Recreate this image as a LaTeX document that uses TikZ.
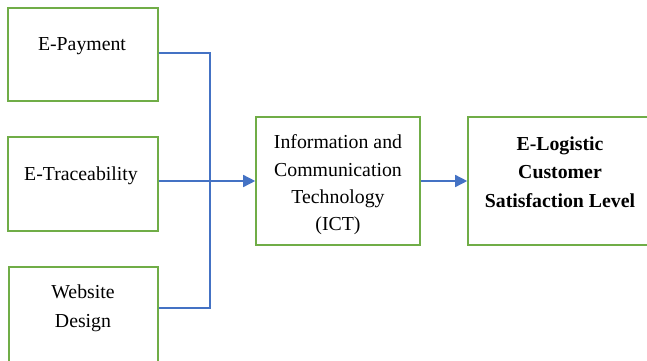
\documentclass[tikz,border=0pt]{standalone}
\usepackage{fontspec}
\setmainfont{Liberation Serif}
\usetikzlibrary{arrows.meta}
\definecolor{boxgreen}{HTML}{70AD47}
\definecolor{lineblue}{HTML}{4472C4}
\tikzset{
  box/.style={draw=boxgreen, line width=1.6pt, fill=white, inner sep=0pt, minimum width=#1},
  box/.default=150pt,
  txt/.style={anchor=base, inner sep=0pt, font=\fontsize{19.8pt}{27.5pt}\selectfont},
  btxt/.style={txt, font=\fontsize{19.8pt}{27.5pt}\selectfont\bfseries},
  conn/.style={draw=lineblue, line width=1.5pt},
  arr/.style={conn, -{Triangle[length=12pt,width=12pt]}},
}
\begin{document}
\begin{tikzpicture}[x=1pt,y=1pt]
\useasboundingbox (0,0) rectangle (647,360);
\fill[white] (0,0) rectangle (647,360);
% boxes
\node[box=150pt, minimum height=93pt] (pay) at (83,305.5) {};
\node[box=150pt, minimum height=94pt] (trace) at (83,176) {};
\node[box=149pt, minimum height=97pt] (web) at (83.5,44.5) {};
\node[box=164pt, minimum height=128pt] (ict) at (338,179) {};
\node[box=182pt, minimum height=128pt] (elog) at (559,179) {};
% texts
\node[txt] (payt) at (82,310) {E-Payment};
\node[txt] (tracet) at (81,180) {E-Traceability};
\node[txt] (webt1) at (83,62) {Website};
\node[txt] (webt2) at (83,33) {Design};
\node[txt] (ictt1) at (338,212) {Information and};
\node[txt] (ictt2) at (338,184) {Communication};
\node[txt] (ictt3) at (338,157) {Technology};
\node[txt] (ictt4) at (338,130) {(ICT)};
\node[btxt] (elogt1) at (560,210) {E-Logistic};
\node[btxt] (elogt2) at (560,182) {Customer};
\node[btxt] (elogt3) at (560,153) {Satisfaction Level};
% connectors
\coordinate (jx) at (210,0);
\coordinate (webj) at ([yshift=-42pt]web.north east);
\draw[conn] ([yshift=1.5pt]pay.east) -| (jx |- webj) -- (webj);
\draw[arr] (trace.east |- ict.west) -- (ict.west);
\draw[arr] (ict.east) -- (elog.west);
\end{tikzpicture}
\end{document}
